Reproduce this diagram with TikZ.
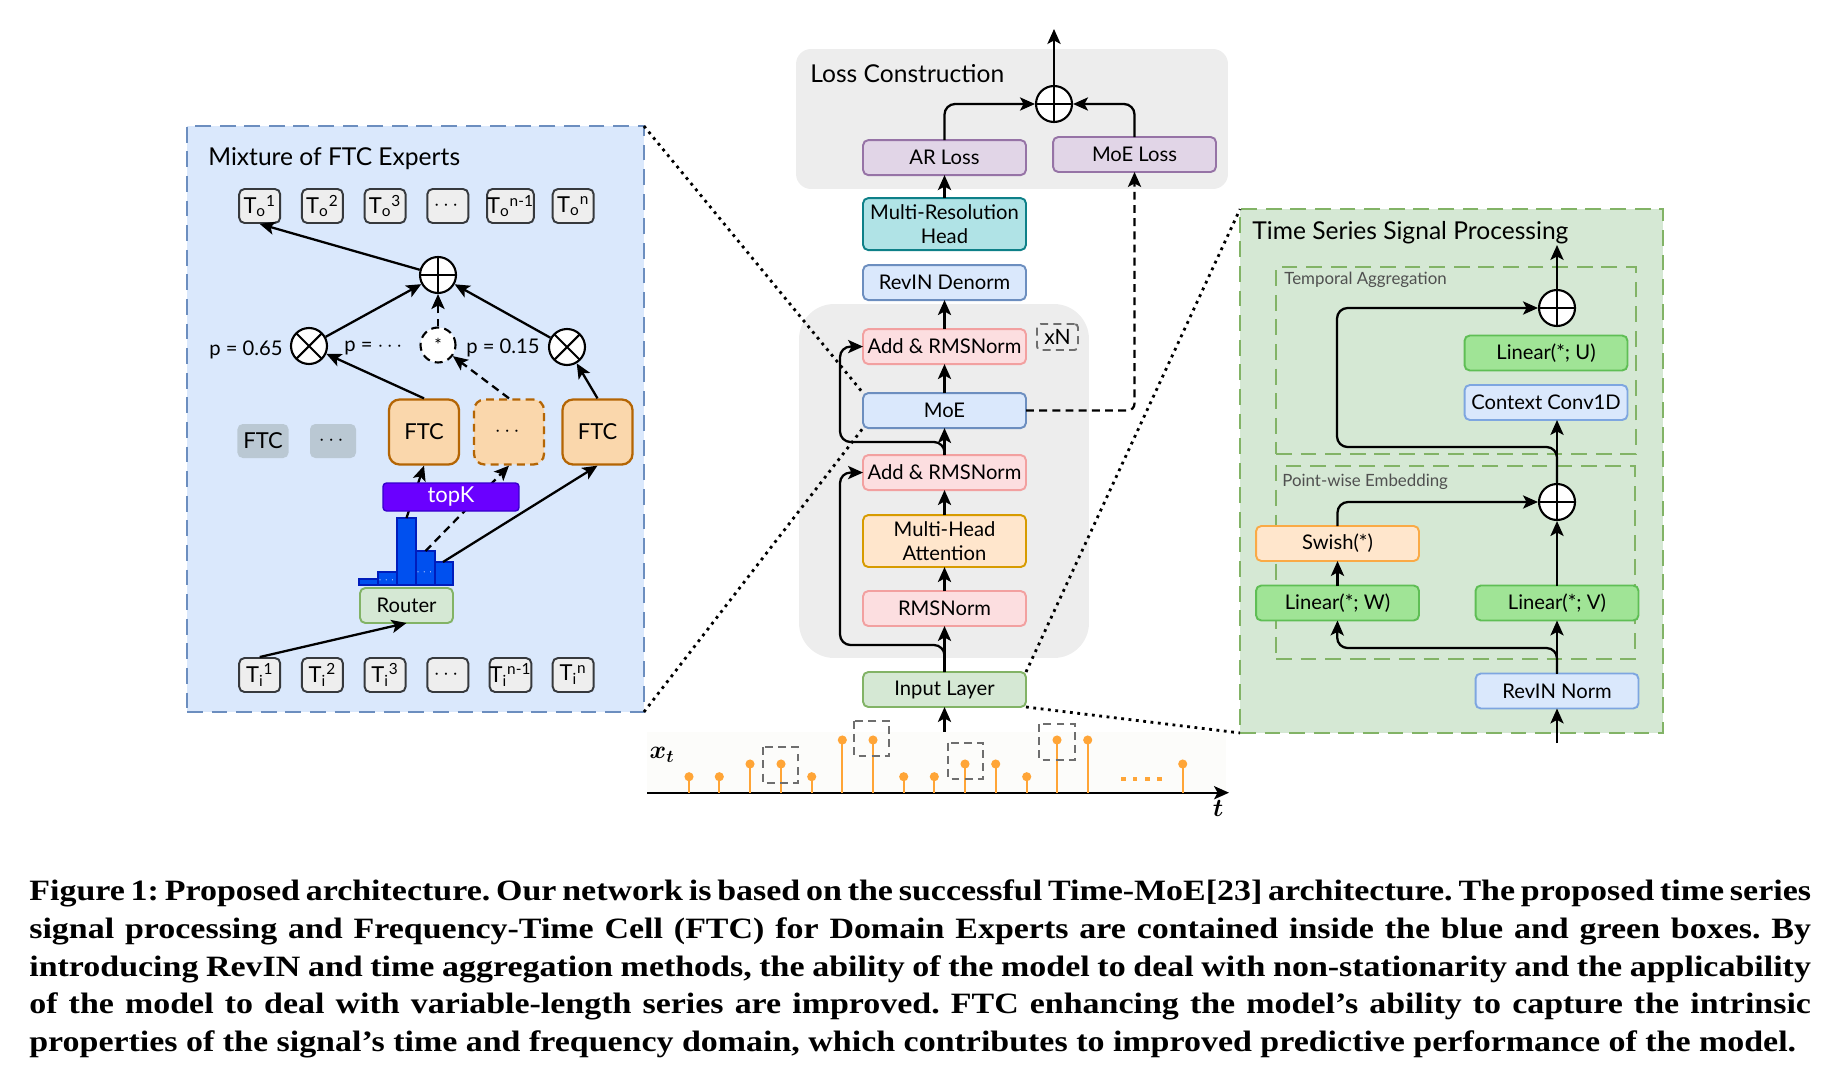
\documentclass[tikz,border=0pt]{standalone}
\usepackage{amsmath, bm}
\usepackage{fontspec}
\setmainfont{Lato}
\newfontfamily\capfont[FakeStretch=1.15]{Liberation Serif}
\usepackage{tikz}
\usetikzlibrary{positioning, arrows.meta}
\definecolor{bluefill}{RGB}{218,232,252}
\definecolor{blueline}{RGB}{108,142,191}
\definecolor{lightblueline}{RGB}{126,166,224}
\definecolor{greenfill}{RGB}{213,232,212}
\definecolor{greenline}{RGB}{130,179,102}
\definecolor{linfill}{RGB}{160,228,150}
\definecolor{linline}{RGB}{95,190,85}
\definecolor{panelgray}{RGB}{237,237,237}
\definecolor{tokfill}{RGB}{238,238,238}
\definecolor{tokline}{RGB}{54,57,61}
\definecolor{ftcfill}{RGB}{250,215,172}
\definecolor{ftcline}{RGB}{180,101,4}
\definecolor{idlefill}{RGB}{186,200,211}
\definecolor{topkfill}{RGB}{106,0,255}
\definecolor{topkline}{RGB}{55,0,204}
\definecolor{barfill}{RGB}{0,80,239}
\definecolor{barline}{RGB}{0,29,188}
\definecolor{lossfill}{RGB}{225,213,231}
\definecolor{lossline}{RGB}{150,115,166}
\definecolor{headfill}{RGB}{176,227,230}
\definecolor{headline}{RGB}{14,128,136}
\definecolor{normfill}{RGB}{252,222,224}
\definecolor{normline}{RGB}{242,160,160}
\definecolor{attnfill}{RGB}{255,230,204}
\definecolor{attnline}{RGB}{215,155,0}
\definecolor{swishline}{RGB}{250,170,70}
\definecolor{stemcol}{RGB}{255,165,55}
\definecolor{sigboxcol}{RGB}{110,110,110}
\definecolor{sigbg}{RGB}{252,252,250}
\definecolor{sublblcol}{RGB}{80,80,80}
\hyphenpenalty=10000
\exhyphenpenalty=10000

\begin{document}
\begin{tikzpicture}[x=0.02cm, y=-0.02cm,
  box/.style={draw, rounded corners=3pt, line width=1.1pt, outer sep=0pt, minimum width=3.26cm, minimum height=0.7cm, align=center, inner sep=1pt, font=\fontsize{11.5}{13.5}\selectfont},
  tall/.style={minimum height=1.04cm},
  tok/.style={draw=tokline, fill=tokfill, rounded corners=3pt, line width=1.1pt, minimum width=0.82cm, minimum height=0.68cm, inner sep=0pt, font=\fontsize{12.5}{13}\selectfont},
  ftc/.style={draw=ftcline, fill=ftcfill, rounded corners=6pt, line width=1.3pt, minimum width=1.4cm, minimum height=1.3cm, font=\fontsize{12.5}{14}\selectfont},
  idle/.style={fill=idlefill, rounded corners=3pt, minimum width=0.92cm, minimum height=0.68cm, font=\fontsize{12.5}{14}\selectfont},
  opl/.style={circle, draw, fill=white, line width=1.2pt, minimum size=0.72cm, inner sep=0pt, path picture={\draw[line width=0.8pt] (path picture bounding box.north) -- (path picture bounding box.south) (path picture bounding box.west) -- (path picture bounding box.east);}},
  mul/.style={circle, draw, fill=white, line width=1.2pt, minimum size=0.72cm, inner sep=0pt, path picture={\draw[line width=1.2pt] (path picture bounding box.north west) -- (path picture bounding box.south east) (path picture bounding box.south west) -- (path picture bounding box.north east);}},
  panel/.style={inner sep=0pt, outer sep=0pt},
  ttl/.style={anchor=west, inner sep=0pt, font=\fontsize{14}{16}\selectfont},
  sublbl/.style={anchor=west, inner sep=0pt, text=sublblcol, font=\fontsize{9.6}{11}\selectfont},
  plbl/.style={inner sep=0pt, font=\fontsize{11.5}{13}\selectfont},
  arr/.style={-{Stealth[length=8.5pt, width=7.5pt, inset=2pt]}, line width=1.3pt},
  dsh/.style={dash pattern=on 4.5pt off 3pt},
  zoomln/.style={line width=1.6pt, dash pattern=on 1.6pt off 2.6pt},
  stemln/.style={stemcol, line width=1.2pt}]
  \useasboundingbox (0,0) rectangle (1834,1078);

  \node[panel, fill=bluefill, draw=blueline, line width=1.6pt, dash pattern=on 9pt off 5pt, minimum width=9.14cm, minimum height=11.72cm] (mix) at (415.5,419) {};
  \node[panel, fill=panelgray, rounded corners=0.3cm, minimum width=8.64cm, minimum height=2.8cm] (lossbox) at (1012,119) {};
  \node[panel, fill=panelgray, rounded corners=0.7cm, minimum width=5.8cm, minimum height=7.08cm] (blk) at (944,481) {};
  \node[panel, fill=greenfill, draw=greenline, line width=1.6pt, dash pattern=on 9pt off 5pt, minimum width=8.46cm, minimum height=10.48cm] (tss) at (1451.5,471) {};
  \node[panel, draw=greenline, line width=1.4pt, dash pattern=on 9pt off 5pt, minimum width=7.2cm, minimum height=3.74cm] (tagg) at (1456,360.5) {};
  \node[panel, draw=greenline, line width=1.4pt, dash pattern=on 9pt off 5pt, minimum width=7.18cm, minimum height=3.86cm] (pemb) at (1455.5,562.5) {};

  \node[ttl] (mixttl) at (208,159) {Mixture of FTC Experts};
  \node[ttl] (lossttl) at (810,74) {Loss Construction};
  \node[ttl] (tssttl) at (1252,233) {Time Series Signal Processing};
  \node[sublbl] (taggttl) at (1284,280) {Temporal Aggregation};
  \node[sublbl] (pembttl) at (1282,482) {Point-wise Embedding};

  % mixture of experts
  \foreach \s/\k in {1/1, 2/2, 3/3, n-1/5, n/6} {
    \node[tok] (to\k) at ({259.7+62.7*(\k-1)},206) {T\textsubscript{o}\textsuperscript{\s}};
    \node[tok] (ti\k) at ({259.7+62.7*(\k-1)},675) {T\textsubscript{i}\textsuperscript{\s}};
  }
  \node[tok] (to4) at (447.8,206) {$\cdots$};
  \node[tok] (ti4) at (447.8,675) {$\cdots$};
  \node[opl] (mplus) at (438,275) {};
  \node[mul] (otl) at (309,346) {};
  \node[circle, draw, dsh, fill=white, line width=1.2pt, minimum size=0.7cm, inner sep=0pt] (otd) at (438,345) {*};
  \node[mul] (otr) at (567,347) {};
  \node[plbl] (pl) at (246,350) {p = 0.65};
  \node[plbl] (pm) at (375,348) {p = $\cdots$};
  \node[plbl] (pr) at (503,348) {p = 0.15};
  \node[idle] (idle1) at (263,441) {FTC};
  \node[idle] (idle2) at (333,441) {$\cdots$};
  \node[ftc] (ftc1) at (424,432) {FTC};
  \node[ftc, dsh] (ftcd) at (509,432) {$\cdots$};
  \node[ftc] (ftc3) at (597.5,432) {FTC};
  \node[box, fill=greenfill, draw=greenline, minimum width=1.86cm] (router) at (406.5,605.5) {Router};
  \foreach \xa/\xb/\yt in {359/378/579, 378/397/572, 397/416/518, 416/435/551, 435/453/562}
    \filldraw[fill=barfill, draw=barline, line width=0.8pt] (\xa,585) rectangle (\xb,\yt);
  \node[inner sep=0pt, text=white, font=\fontsize{5}{5}\selectfont] (bdots1) at (387.5,580) {$\cdots$};
  \node[inner sep=0pt, text=white, font=\fontsize{5}{5}\selectfont] (bdots2) at (425.5,572) {$\cdots$};
  \coordinate (b3) at (406.5,518);
  \coordinate (b4) at (425.5,551);
  \coordinate (b5) at (443,562);

  \draw[arr] (ti1.north) -- (router.south);
  \draw[arr] (b3) -- (ftc1.south);
  \draw[arr, dsh] (b4) -- (ftcd.south);
  \draw[arr] (b5) -- (ftc3.south);
  \draw[arr] (ftc1.north) -- (otl);
  \draw[arr, dsh] (ftcd.north) -- (otd);
  \draw[arr] (ftc3.north) -- (otr);
  \draw[arr] (otl) -- (mplus);
  \draw[arr, dsh] (otd) -- (mplus);
  \draw[arr] (otr) -- (mplus);
  \draw[arr] (mplus) -- (to1.south);
  \node[fill=topkfill, draw=topkline, rounded corners=2pt, line width=0.8pt, minimum width=2.72cm, minimum height=0.56cm, inner sep=0pt, text=white, font=\fontsize{12.5}{14}\selectfont] (topk) at (451,497) {topK};

  % backbone
  \node[box, fill=greenfill, draw=greenline] (inp) at (944.5,689.5) {Input Layer};
  \node[box, fill=normfill, draw=normline, above=0.92cm of inp] (rms) {RMSNorm};
  \node[box, tall, fill=attnfill, draw=attnline, above=0.48cm of rms] (mha) {Multi-Head\\Attention};
  \node[box, fill=normfill, draw=normline, above=0.5cm of mha] (add1) {Add \& RMSNorm};
  \node[box, fill=bluefill, draw=blueline, above=0.54cm of add1] (moe) {MoE};
  \node[box, fill=normfill, draw=normline, above=0.58cm of moe] (add2) {Add \& RMSNorm};
  \node[box, fill=bluefill, draw=blueline, above=0.58cm of add2] (rdn) {RevIN Denorm};
  \node[box, tall, fill=headfill, draw=headline, above=0.3cm of rdn] (mrh) {Multi-Resolution\\Head};
  \node[box, fill=lossfill, draw=lossline, above=0.46cm of mrh] (arl) {AR Loss};
  \node[box, fill=lossfill, draw=lossline] (mel) at (1134.5,154.5) {MoE Loss};
  \node[opl] (lplus) at (1054,104) {};
  \coordinate (lout) at (1054,29);
  \node[draw=sigboxcol, dsh, line width=1.1pt, rounded corners=2pt, minimum width=0.82cm, minimum height=0.52cm, inner sep=0pt, font=\fontsize{12}{13}\selectfont] (rep) at (1057.5,337) {xN};
  \coordinate (sigin) at (944.5,732);

  \draw[arr] (sigin) -- (inp.south);
  \draw[arr] (inp.north) -- (rms.south);
  \draw[arr] (rms.north) -- (mha.south);
  \draw[arr] (mha.north) -- (add1.south);
  \draw[arr] (add1.north) -- (moe.south);
  \draw[arr] (moe.north) -- (add2.south);
  \draw[arr] (add2.north) -- (rdn.south);
  \draw[arr] (mrh.north) -- (arl.south);
  \draw[arr, rounded corners=6pt] (inp.north) |- (840,645) |- (add1.west);
  \draw[arr, rounded corners=6pt] (add1.north) |- (840,442) |- (add2.west);
  \draw[arr, rounded corners=6pt] (arl.north) |- (lplus.west);
  \draw[arr, rounded corners=6pt] (mel.north) |- (lplus.east);
  \draw[arr] (lplus.north) -- (lout);
  \draw[arr, dsh, rounded corners=4pt] (moe.east) -| (mel.south);

  % signal processing
  \node[opl] (tplus) at (1557,308) {};
  \node[box, fill=linfill, draw=linline] (linu) at (1546,353) {Linear(*; U)};
  \node[box, fill=bluefill, draw=lightblueline] (conv) at (1546,402.5) {Context Conv1D};
  \node[opl] (pplus) at (1557,502) {};
  \node[box, fill=attnfill, draw=swishline] (swish) at (1337.5,543.5) {Swish(*)};
  \node[box, fill=linfill, draw=linline] (linw) at (1337.5,603) {Linear(*; W)};
  \node[box, fill=linfill, draw=linline] (linv) at (1557,603) {Linear(*; V)};
  \node[box, fill=bluefill, draw=lightblueline] (rnorm) at (1557,691) {RevIN Norm};
  \coordinate (rin) at (1557,743);
  \coordinate (tout) at (1557,245);

  \draw[arr] (rin) -- (rnorm.south);
  \draw[arr] (rnorm.north) -- (linv.south);
  \draw[arr, rounded corners=6pt] (rnorm.north) |- (1337,648) -- (linw.south);
  \draw[arr] (linw.north) -- (swish.south);
  \draw[arr, rounded corners=6pt] (swish.north) |- (pplus.west);
  \draw[arr] (linv.north) -- (pplus.south);
  \draw[arr] (pplus.north) -- (pplus.north |- conv.south);
  \draw[arr, rounded corners=6pt] (pplus.north) |- (1337,447) |- (tplus.west);
  \draw[arr] (tplus.north) -- (tout);

  % input series
  \fill[sigbg] (647,732) rectangle (1226,793);
  \draw[-{Stealth[length=8.5pt, width=7.5pt, inset=2pt]}, line width=1.3pt] (647,792.7) -- (1229,792.7);
  \foreach \x/\y in {689/776.7, 719.3/776.7, 750/764, 781/764, 811.7/776.7, 842.3/740, 873/740, 903.7/776.7, 934.3/776.7, 965/764, 995.7/764, 1026.7/776.7, 1057/740, 1087.7/740, 1182.7/764} {
    \draw[stemln] (\x,792.7) -- (\x,\y);
    \fill[stemcol] (\x,\y) circle (2.6pt);
  }
  \foreach \x in {1123.3, 1135, 1147.7, 1159.3}
    \fill[stemcol] (\x-2.4,776.6) rectangle (\x+2.4,781.4);
  \draw[sigboxcol, dsh, line width=1.1pt] (762.7,747.3) rectangle (798.3,782.7);
  \draw[sigboxcol, dsh, line width=1.1pt] (854.3,720.7) rectangle (889.3,756);
  \draw[sigboxcol, dsh, line width=1.1pt] (948,742.7) rectangle (983.3,778.7);
  \draw[sigboxcol, dsh, line width=1.1pt] (1039,724) rectangle (1075,760);
  \node[font=\fontsize{14}{16}\selectfont] (xlbl) at (662,755) {$\bm{x_t}$};
  \node[font=\fontsize{14}{16}\selectfont] (tlbl) at (1218,808) {$\bm{t}$};

  \draw[zoomln] (mix.north east) -- (moe.north west);
  \draw[zoomln] (mix.south east) -- (moe.south west);
  \draw[zoomln] (inp.north east) -- (tss.north west);
  \draw[zoomln] (inp.south east) -- (tss.south west);

  \node[anchor=north west, inner sep=0pt, text width=35.64cm, align=justify, font=\capfont\bfseries\frenchspacing\fontsize{16.8}{21.6}\selectfont] (caption) at (29,879) {Figure 1: Proposed architecture. Our network is based on the successful Time-MoE[23] architecture. The proposed time series\linebreak signal processing and Frequency-Time Cell (FTC) for Domain Experts are contained inside the blue and green boxes. By\linebreak introducing RevIN and time aggregation methods, the ability of the model to deal with non-stationarity and the applicability\linebreak of the model to deal with variable-length series are improved. FTC enhancing the model’s ability to capture the intrinsic\linebreak properties of the signal’s time and frequency domain, which contributes to improved predictive performance of the model.};
\end{tikzpicture}
\end{document}
